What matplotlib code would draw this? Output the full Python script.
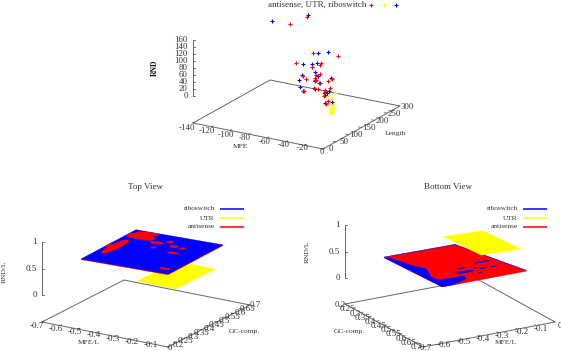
import numpy as np
import matplotlib
matplotlib.use('Agg')
import matplotlib.pyplot as plt

plt.rcParams['font.family'] = ['Liberation Serif', 'DejaVu Serif']

# scatter data (MFE, Length, RND)
red_mfe = [-42, -60, -36, -9, -54, -27, -28, -37, -32, -28, -46, -34, -43, -33, -32, -29, -20, -15, -45, -35, -30, -23, -17, -24, -24, -19, -22]
red_len = [90] * 27
red_rnd = [242, 212, 140, 148, 103, 116, 110, 101, 81, 86, 71, 71, 62, 67, 66, 60, 70, 77, 28, 42, 41, 43, 52, 33, 25, 13, 4]
blue_mfe = [-80, -41, -30, -20, -46, -37, -31, -33, -48, -30, -51, -33, -16, -50, -46, -34, -28, -18, -23, -23, -15, -23, -21]
blue_len = [90] * 23
blue_rnd = [210, 246, 143, 152, 104, 110, 115, 89, 73, 78, 56, 63, 79, 37, 27, 39, 61, 43, 38, 28, 12, 5, 34]
yellow_mfe = [-7, -7, -5.5, -9, -7, -5, -11, -4, -6, -10, -5.5]
yellow_len = [60, 60, 60, 60, 60, 45, 60, 60, 60, 60, 60]
yellow_rnd = [37, 20, 16, 7, 1, 5, 47, 57, 11, 24, 24]

# surfaces: corners (x, y, z) in order x-low/y-low, x-high/y-low, x-high/y-high, x-low/y-high
top_main_x = [-0.574, -0.091, -0.091, -0.574]
top_main_y = [0.30, 0.30, 0.635, 0.635]
top_main_z = [0.61, 0.65, 0.67, 0.63]
top_utr_x = [-0.259, -0.05, -0.05, -0.259]
top_utr_y = [0.30, 0.30, 0.54, 0.54]
top_utr_z = [0.405, 0.393, 0.39, 0.40]

bot_main_x = [-0.535, -0.154, -0.091, -0.535]
bot_main_y = [0.25, 0.245, 0.628, 0.623]
bot_main_z = [0.355, 0.33, 0.418, 0.408]
bot_utr_x = [-0.259, -0.05, -0.05, -0.259]
bot_utr_y = [0.30, 0.30, 0.54, 0.54]
bot_utr_z = [0.65, 0.617, 0.666, 0.69]

# red regions showing through blue (top) and blue through red (bottom),
# centre and half width as fractions of the surface
top_spot_s = [0.105, 0.149, 0.229, 0.22, 0.092, 0.393, 0.492, 0.603, 0.711, 0.696, 0.44, 0.887, 0.018]
top_spot_t = [0.847, 0.929, 0.832, 0.966, 0.472, 0.755, 0.84, 0.736, 0.723, 0.567, 0.618, 0.124, 0.468]
top_spot_hs = [0.11, 0.11, 0.09, 0.07, 0.06, 0.08, 0.035, 0.045, 0.035, 0.07, 0.03, 0.06, 0.025]
top_spot_ht = [0.08, 0.07, 0.07, 0.035, 0.24, 0.04, 0.04, 0.04, 0.03, 0.03, 0.025, 0.03, 0.04]

bot_spot_s = [0.838, 0.476, 0.517, 0.648, 0.717, 0.832, 0.587]
bot_spot_t = [0.555, 0.728, 0.62, 0.677, 0.72, 0.723, 0.821]
bot_spot_hs = [0.10, 0.11, 0.05, 0.03, 0.05, 0.05, 0.03]
bot_spot_ht = [0.02, 0.03, 0.02, 0.015, 0.02, 0.015, 0.01]
bot_blue_s = [0, 0.062, 0.12, 0.194, 0.087, 0.089, 0.262, 0.399, 0.349, 0.14, 0]
bot_blue_t = [0, 0.027, 0.301, 0.47, 0.686, 0.8, 0.817, 0.821, 0.912, 1, 1]

mfe_ticks = [-140, -120, -100, -80, -60, -40, -20, 0]
len_ticks = [0, 50, 100, 150, 200, 250, 300]
rnd_ticks = [0, 20, 40, 60, 80, 100, 120, 140, 160]
mfel_ticks = [-0.7, -0.6, -0.5, -0.4, -0.3, -0.2, -0.1, 0]
gc_ticks = [0.2, 0.25, 0.3, 0.35, 0.4, 0.45, 0.5, 0.55, 0.6, 0.65, 0.7]
rndl_ticks = [0, 0.5, 1]

RED, BLUE, YELLOW = '#ff0000', '#0000ff', '#ffff00'
INK = '#333333'
AXC = '#666666'


def make_proj(org, xr, yr, xv, yv, zbase, zscale):
    # gnuplot style oblique view, returns pixel position for data values
    def proj(x, y, z=None):
        a = (np.asarray(x, float) - xr[0]) / (xr[1] - xr[0])
        b = (np.asarray(y, float) - yr[0]) / (yr[1] - yr[0])
        sx = org[0] + a * xv[0] + b * yv[0]
        sy = org[1] + a * xv[1] + b * yv[1]
        if z is not None:
            sy = sy - zbase - np.asarray(z, float) * zscale
        return sx, sy
    return proj


def tick_labels(ax, ticks, sxy, off, fs):
    # label offset drifts from first to last tick, as in the reference
    n = len(ticks) - 1
    for i, t in enumerate(ticks):
        sx, sy = sxy(t)
        dx = off[0] + (off[2] - off[0]) * i / n
        dy = off[1] + (off[3] - off[1]) * i / n
        ax.text(sx + dx, sy + dy, '%g' % t, ha='center', va='center', fontsize=fs, color=INK)


def draw_frame(ax, proj, xr, yr, zr, xticks, yticks, zticks, x_edge, y_edge, xoff, yoff, fs):
    cx = [xr[0], xr[1], xr[1], xr[0], xr[0]]
    cy = [yr[0], yr[0], yr[1], yr[1], yr[0]]
    sx, sy = proj(cx, cy)
    ax.plot(sx, sy, color=AXC, lw=0.7, zorder=1)
    zx, zy = zr[2], zr[3]
    sx, sy = proj([zx, zx], [zy, zy], [zr[0], zr[1]])
    ax.plot(sx, sy, color=AXC, lw=0.7, zorder=1)
    for t in zticks:
        sx, sy = proj(zx, zy, t)
        ax.plot([sx, sx + 2], [sy, sy], color=AXC, lw=0.6, zorder=1)
        ax.text(sx - 5, sy, '%g' % t, ha='right', va='center', fontsize=fs, color=INK)
    ysgn = 1 if x_edge == yr[0] else -1
    xsgn = -1 if y_edge == xr[1] else 1
    for t in xticks:
        sx, sy = proj(t, x_edge)
        sx2, sy2 = proj(t, x_edge + (yr[1] - yr[0]) * 0.02 * ysgn)
        ax.plot([sx, sx2], [sy, sy2], color=AXC, lw=0.6, zorder=1)
    for t in yticks:
        sx, sy = proj(y_edge, t)
        sx2, sy2 = proj(y_edge + (xr[1] - xr[0]) * 0.02 * xsgn, t)
        ax.plot([sx, sx2], [sy, sy2], color=AXC, lw=0.6, zorder=1)
    tick_labels(ax, xticks, lambda t: proj(t, x_edge), xoff, fs)
    tick_labels(ax, yticks, lambda t: proj(y_edge, t), yoff, fs)


def surf_point(xs, ys, zs, s, t, proj, dz=0.0):
    s = np.asarray(s, float)
    t = np.asarray(t, float)
    def blend(c):
        return (1 - s) * (1 - t) * c[0] + s * (1 - t) * c[1] + s * t * c[2] + (1 - s) * t * c[3]
    return proj(blend(xs), blend(ys), blend(zs) + dz)


def draw_surface(ax, xs, ys, zs, proj, color, z, dz=0.0):
    sx, sy = proj(xs, ys, np.asarray(zs) + dz)
    ax.fill(sx, sy, color=color, lw=0.3, zorder=z)


def draw_spots(ax, xs, ys, zs, proj, ss, ts, hs, ht, color, z):
    ang = np.linspace(0, 2 * np.pi, 24)
    for s0, t0, a, b in zip(ss, ts, hs, ht):
        sx, sy = surf_point(xs, ys, zs, s0 + a * np.cos(ang), t0 + b * np.sin(ang), proj)
        ax.fill(sx, sy, color=color, lw=0, zorder=z)


def legend(ax, xr, labels, colors, fs):
    for i, (lab, c) in enumerate(zip(labels, colors)):
        y = 209 + i * 9
        ax.text(xr - 5, y, lab, ha='right', va='center', fontsize=fs, color=INK)
        ax.plot([xr, xr + 24.5], [y, y], color=c, lw=1.1, zorder=6, solid_capstyle='butt')


fig = plt.figure(figsize=(5.61, 3.51), dpi=100)
ax = fig.add_axes([0, 0, 1, 1])
ax.set_xlim(0, 561)
ax.set_ylim(351, 0)
ax.axis('off')

# top panel
p1 = make_proj((193, 123), (-140, 0), (0, 300), (130, 26), (77, -43), 27, 56 / 160)
draw_frame(ax, p1, (-140, 0), (0, 300), (0, 160, -140, 0), mfe_ticks, len_ticks, rnd_ticks,
           0, 0, (-5.7, 5, -1, 2.7), (8, 0.3, 7.3, 1), 6.4)
for xs, ys, zs, c in [(yellow_mfe, yellow_len, yellow_rnd, YELLOW),
                      (blue_mfe, blue_len, blue_rnd, BLUE),
                      (red_mfe, red_len, red_rnd, RED)]:
    sx, sy = p1(xs, ys, zs)
    ax.plot(sx, sy, '+', color=c, ms=3.4, mew=0.8, zorder=4)
ax.text(366, 5, 'antisense, UTR, riboswitch', ha='right', va='center', fontsize=6.5, color=INK)
for mx, c in zip([371, 384, 396], [RED, YELLOW, BLUE]):
    ax.plot([mx], [5], '+', color=c, ms=3.4, mew=0.8)
ax.text(240, 147, 'MFE', ha='center', va='center', fontsize=5.4, color=INK)
ax.text(396, 133, 'Length', ha='center', va='center', fontsize=5.4, color=INK)
ax.text(155, 68, 'RND', ha='center', va='center', rotation=90, fontsize=5.6, color='#111111', fontweight='bold')

# top view
p2 = make_proj((42, 322), (-0.7, 0), (0.2, 0.7), (126, 25), (82, -42), 27, 52.7)
draw_frame(ax, p2, (-0.7, 0), (0.2, 0.7), (0, 1, -0.7, 0.2), mfel_ticks, gc_ticks, rndl_ticks,
           0.2, 0, (-5.7, 4, 2, 1), (10, -1.7, 5.3, 0.3), 6.5)
draw_surface(ax, top_utr_x, top_utr_y, top_utr_z, p2, YELLOW, 2)
draw_surface(ax, top_main_x, top_main_y, top_main_z, p2, RED, 3, dz=-0.012)
draw_surface(ax, top_main_x, top_main_y, top_main_z, p2, BLUE, 3.1)
draw_spots(ax, top_main_x, top_main_y, top_main_z, p2, top_spot_s, top_spot_t, top_spot_hs, top_spot_ht, RED, 3.2)
legend(ax, 220, ['riboswitch', 'UTR', 'antisense'], [BLUE, YELLOW, RED], 5.3)
ax.text(146, 187, 'Top View', ha='center', va='center', fontsize=6.5, color=INK)
ax.text(89, 343, 'MFE/L', ha='center', va='center', fontsize=5.4, color=INK)
ax.text(244, 331, 'GC-comp.', ha='center', va='center', fontsize=5.4, color=INK)
ax.text(4, 272, 'RND/L', ha='center', va='center', rotation=90, fontsize=5.4, color=INK)

# bottom view
p3 = make_proj((345, 304), (-0.7, 0), (0.2, 0.7), (132, -25), (78, 43), 26, 52.7)
draw_frame(ax, p3, (-0.7, 0), (0.2, 0.7), (0, 1, -0.7, 0.2), mfel_ticks, gc_ticks, rndl_ticks,
           0.7, -0.7, (2, 1.5, 5, 4), (-5, 1.3, -6.7, 0), 6.5)
draw_surface(ax, bot_main_x, bot_main_y, bot_main_z, p3, BLUE, 3, dz=0.012)
draw_surface(ax, bot_main_x, bot_main_y, bot_main_z, p3, RED, 3.1)
sx, sy = surf_point(bot_main_x, bot_main_y, bot_main_z, bot_blue_s, bot_blue_t, p3)
ax.fill(sx, sy, color=BLUE, lw=0, zorder=3.2)
draw_spots(ax, bot_main_x, bot_main_y, bot_main_z, p3, bot_spot_s, bot_spot_t, bot_spot_hs, bot_spot_ht, BLUE, 3.2)
draw_surface(ax, bot_utr_x, bot_utr_y, bot_utr_z, p3, YELLOW, 4)
legend(ax, 523, ['riboswitch', 'UTR', 'antisense'], [BLUE, YELLOW, RED], 5.3)
ax.text(448, 187, 'Bottom View', ha='center', va='center', fontsize=6.5, color=INK)
ax.text(349, 331, 'GC-comp.', ha='center', va='center', fontsize=5.4, color=INK)
ax.text(506, 343, 'MFE/L', ha='center', va='center', fontsize=5.4, color=INK)
ax.text(307, 252, 'RND/L', ha='center', va='center', rotation=90, fontsize=5.4, color=INK)

fig.savefig('out.png', dpi=100)
